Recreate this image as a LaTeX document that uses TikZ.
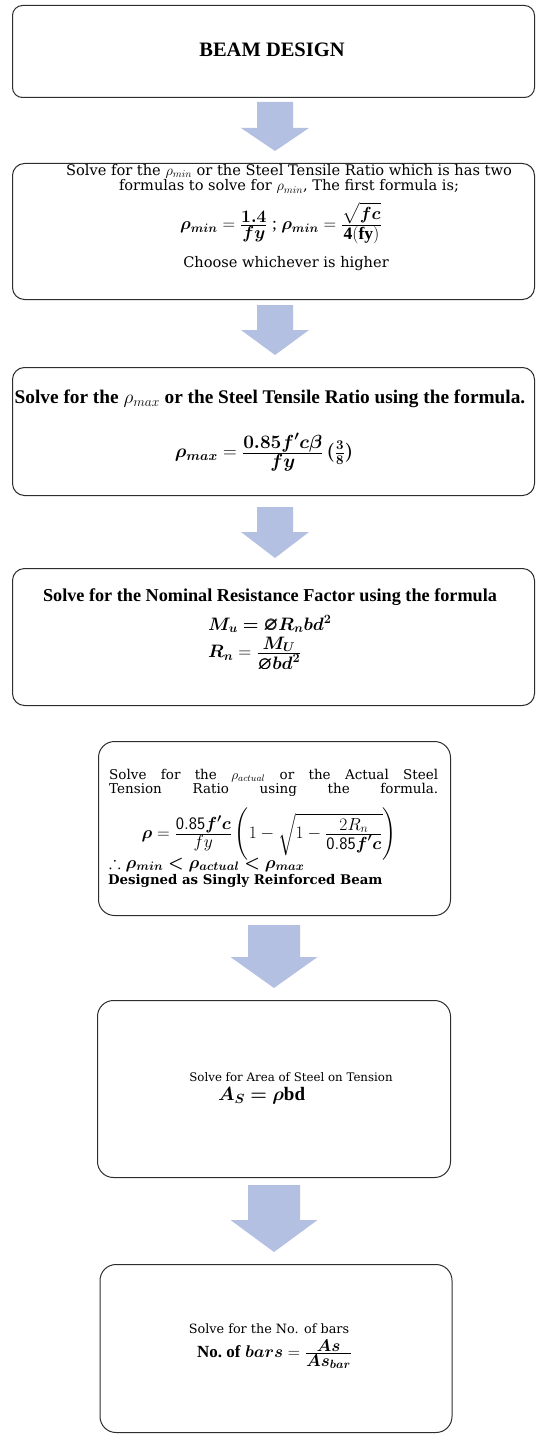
\RequirePackage{fix-cm}
\documentclass[tikz,border=0pt]{standalone}
\usepackage{amsmath,amssymb}
\usepackage{bm}
\usepackage{fontspec}
\setmainfont{Liberation Serif}
\newfontfamily\cam{DejaVu Serif}
\definecolor{arrowblue}{RGB}{180,192,226}
\definecolor{boxline}{RGB}{45,45,45}
\newcommand\cf[2]{{\textstyle\frac{\displaystyle #1}{\displaystyle #2}}}
\tikzset{
  box/.style={draw=boxline, line width=1pt, rounded corners=#1, inner sep=0pt, anchor=north west},
  txt/.style={inner sep=0pt, align=center},
  pics/downarrow/.style n args={4}{code={
    \fill[arrowblue] ({-#1/2},0) -- ({#1/2},0) -- ({#1/2},#3) -- ({#2/2},#3) -- (0,#4)
      -- ({-#2/2},#3) -- ({-#1/2},#3) -- cycle;}},
}
\begin{document}
\begin{tikzpicture}[x=1pt,y=-1pt]
\useasboundingbox (0,0) rectangle (536,1434);
% boxes
\node[box=10pt, minimum width=522pt, minimum height=92pt]  (b1) at (12,5) {};
\node[box=12pt, minimum width=522pt, minimum height=136pt] (b2) at (12,163) {};
\node[box=12pt, minimum width=522pt, minimum height=128pt] (b3) at (12,367) {};
\node[box=12pt, minimum width=522pt, minimum height=137pt] (b4) at (12,568) {};
\node[box=16pt, minimum width=352pt, minimum height=174pt] (b5) at (98,741) {};
\node[box=16pt, minimum width=353pt, minimum height=177pt] (b6) at (97,1000) {};
\node[box=16pt, minimum width=352pt, minimum height=168pt] (b7) at (99.5,1264) {};
% block arrows
\coordinate (a1) at (275,102);
\coordinate (a2) at (275,305);
\coordinate (a3) at (275,507);
\coordinate (a4) at (274,925);
\coordinate (a5) at (274,1185);
\pic at (a1) {downarrow={36}{68}{26}{49}};
\pic at (a2) {downarrow={36}{68}{25}{50}};
\pic at (a3) {downarrow={36}{68}{25}{51}};
\pic at (a4) {downarrow={52}{87}{32}{63}};
\pic at (a5) {downarrow={52}{87}{35}{67}};
% box 1
\node[txt, font=\bfseries\fontsize{20.5}{22}\selectfont] (t1) at (272,50) {BEAM DESIGN};
% box 2
\node[txt, font=\cam\fontsize{14.6}{15.5}\selectfont] (t2a) at (289,179)
  {Solve for the $\rho_{min}$ or the Steel Tensile Ratio which is has two\\
   formulas to solve for $\rho_{min}$, The first formula is;};
\node[txt, font=\fontsize{17.5}{20}\selectfont] (t2b) at (281,223)
  {$\bm{\rho_{min}} = \cf{\bm{1.4}}{\bm{fy}}$ ; $\bm{\rho_{min}} = \cf{\bm{\sqrt{fc}}}{\mathbf{4(fy)}}$};
\node[txt, font=\cam\fontsize{14.6}{16}\selectfont] (t2c) at (286,264) {Choose whichever is higher};
% box 3
\node[txt, font=\bfseries\fontsize{19.3}{21}\selectfont] (t3a) at (270,399)
  {Solve for the $\rho_{max}$ or the Steel Tensile Ratio using the formula.};
\node[txt, font=\fontsize{19}{21}\selectfont] (t3b) at (264,452)
  {$\bm{\rho_{max}} = \cf{\bm{0.85f'c\beta}}{\bm{fy}}\,\bm{(\tfrac{3}{8})}$};
% box 4
\node[txt, font=\bfseries\fontsize{18.2}{20}\selectfont] (t4a) at (270,597)
  {Solve for the Nominal Resistance Factor using the formula};
\node[inner sep=0pt, anchor=base west, font=\fontsize{18}{20}\selectfont] (t4b) at (208,630)
  {$\bm{M_u = \varnothing R_n bd^2}$};
\node[inner sep=0pt, anchor=west, font=\fontsize{18}{20}\selectfont] (t4c) at (208,654)
  {$\bm{R_n} = \cf{\bm{M_U}}{\bm{\varnothing bd^2}}$};
% box 5
\node[inner sep=0pt, anchor=north west, align=left,
      font=\cam\fontsize{13.5}{12.5}\selectfont] (t5a) at (109,769)
  {\hbox to 329pt{Solve\hfill for\hfill the\hfill $\rho_{actual}$\hfill or\hfill the\hfill Actual\hfill Steel}\\
   \hbox to 329pt{Tension\hfill Ratio\hfill using\hfill the\hfill formula.}};
\node[txt, font=\fontsize{17.5}{19}\selectfont] (t5b) at (269,834)
  {$\bm{\rho} = \cf{\mathsf{0.85}\bm{f'c}}{fy}\left(\rule[-20pt]{0pt}{42pt}1-\sqrt{1-\cf{2R_n}{\mathsf{0.85}\bm{f'c}}}\right)$};
\node[inner sep=0pt, anchor=base west, font=\fontsize{17.5}{19}\selectfont] (t5c) at (109,868)
  {$\therefore \bm{\rho_{min} < \rho_{actual} < \rho_{max}}$};
\node[inner sep=0pt, anchor=base west, font=\cam\bfseries\fontsize{13.3}{15}\selectfont] (t5d) at (108,884)
  {Designed as Singly Reinforced Beam};
% box 6
\node[txt, font=\cam\fontsize{11.8}{15}\selectfont] (t6a) at (291,1077) {Solve for Area of Steel on Tension};
\node[txt, anchor=west, font=\fontsize{19}{21}\selectfont] (t6b) at (218,1096) {$\bm{A_S = \rho}\mathbf{bd}$};
% box 7
\node[txt, font=\cam\fontsize{12.8}{15}\selectfont] (t7a) at (269,1329) {Solve for the No. of bars};
\node[txt, anchor=west, font=\fontsize{17}{19}\selectfont] (t7b) at (197,1354)
  {\textbf{No.\ of} $\bm{bars} = \cf{\bm{As}}{\bm{As_{bar}}}$};
\end{tikzpicture}
\end{document}
